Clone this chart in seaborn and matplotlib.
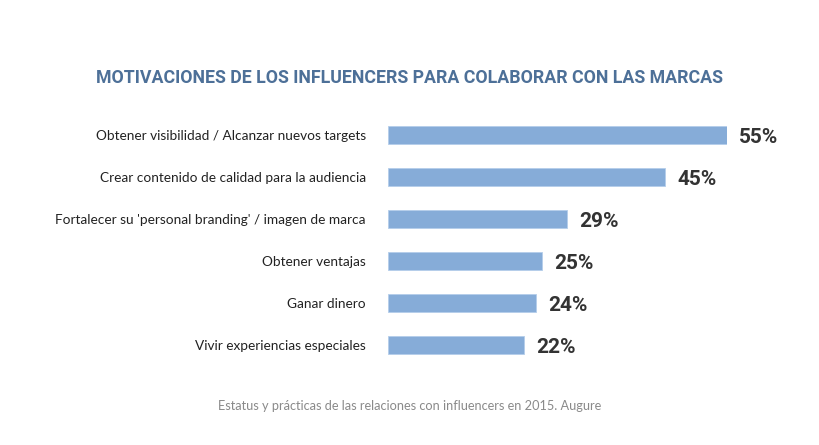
import matplotlib
matplotlib.use("Agg")
import matplotlib.pyplot as plt
import seaborn as sns
import pandas as pd

# Data
motivations = [
    "Obtener visibilidad / Alcanzar nuevos targets",
    "Crear contenido de calidad para la audiencia",
    "Fortalecer su 'personal branding' / imagen de marca",
    "Obtener ventajas",
    "Ganar dinero",
    "Vivir experiencias especiales",
]
percentages = [55, 45, 29, 25, 24, 22]

title = "MOTIVACIONES DE LOS INFLUENCERS PARA COLABORAR CON LAS MARCAS"
source = "Estatus y prácticas de las relaciones con influencers en 2015. Augure"

df = pd.DataFrame({"motivo": motivations, "pct": percentages})

fig = plt.figure(figsize=(8.19, 4.45), dpi=100)
ax = fig.add_axes([388 / 819, 1 - 366 / 445, 339 / 819, 252 / 445])

sns.barplot(data=df, x="pct", y="motivo", orient="h", color="#86acd8",
            width=0.42, ax=ax, saturation=1, edgecolor="#b4cdea", linewidth=0.6)

ax.set_xlim(0, 55)
ax.set_ylim(5.5, -0.5)
ax.set_xlabel("")
ax.set_ylabel("")
ax.set_xticks([])
ax.tick_params(axis="y", length=0, pad=16, labelsize=9.8, labelcolor="#222222")
for lbl in ax.get_yticklabels():
    lbl.set_family("Lato")
for s in ax.spines.values():
    s.set_visible(False)

for i, v in enumerate(percentages):
    ax.text(v + 2.0, i + 0.05, f"{v}%", va="center", ha="left", fontsize=15,
            fontweight="bold", color="#333333", family="Roboto", clip_on=False)

fig.text(0.5, 1 - 78 / 445, title, ha="center", va="center", fontsize=12.8,
         fontweight="bold", color="#4d7098", family="Roboto")
fig.text(0.5, 1 - 406 / 445, source, ha="center", va="center", fontsize=9.2,
         color="#8a8a8a", family="Lato")

fig.savefig("out.png", dpi=100)
